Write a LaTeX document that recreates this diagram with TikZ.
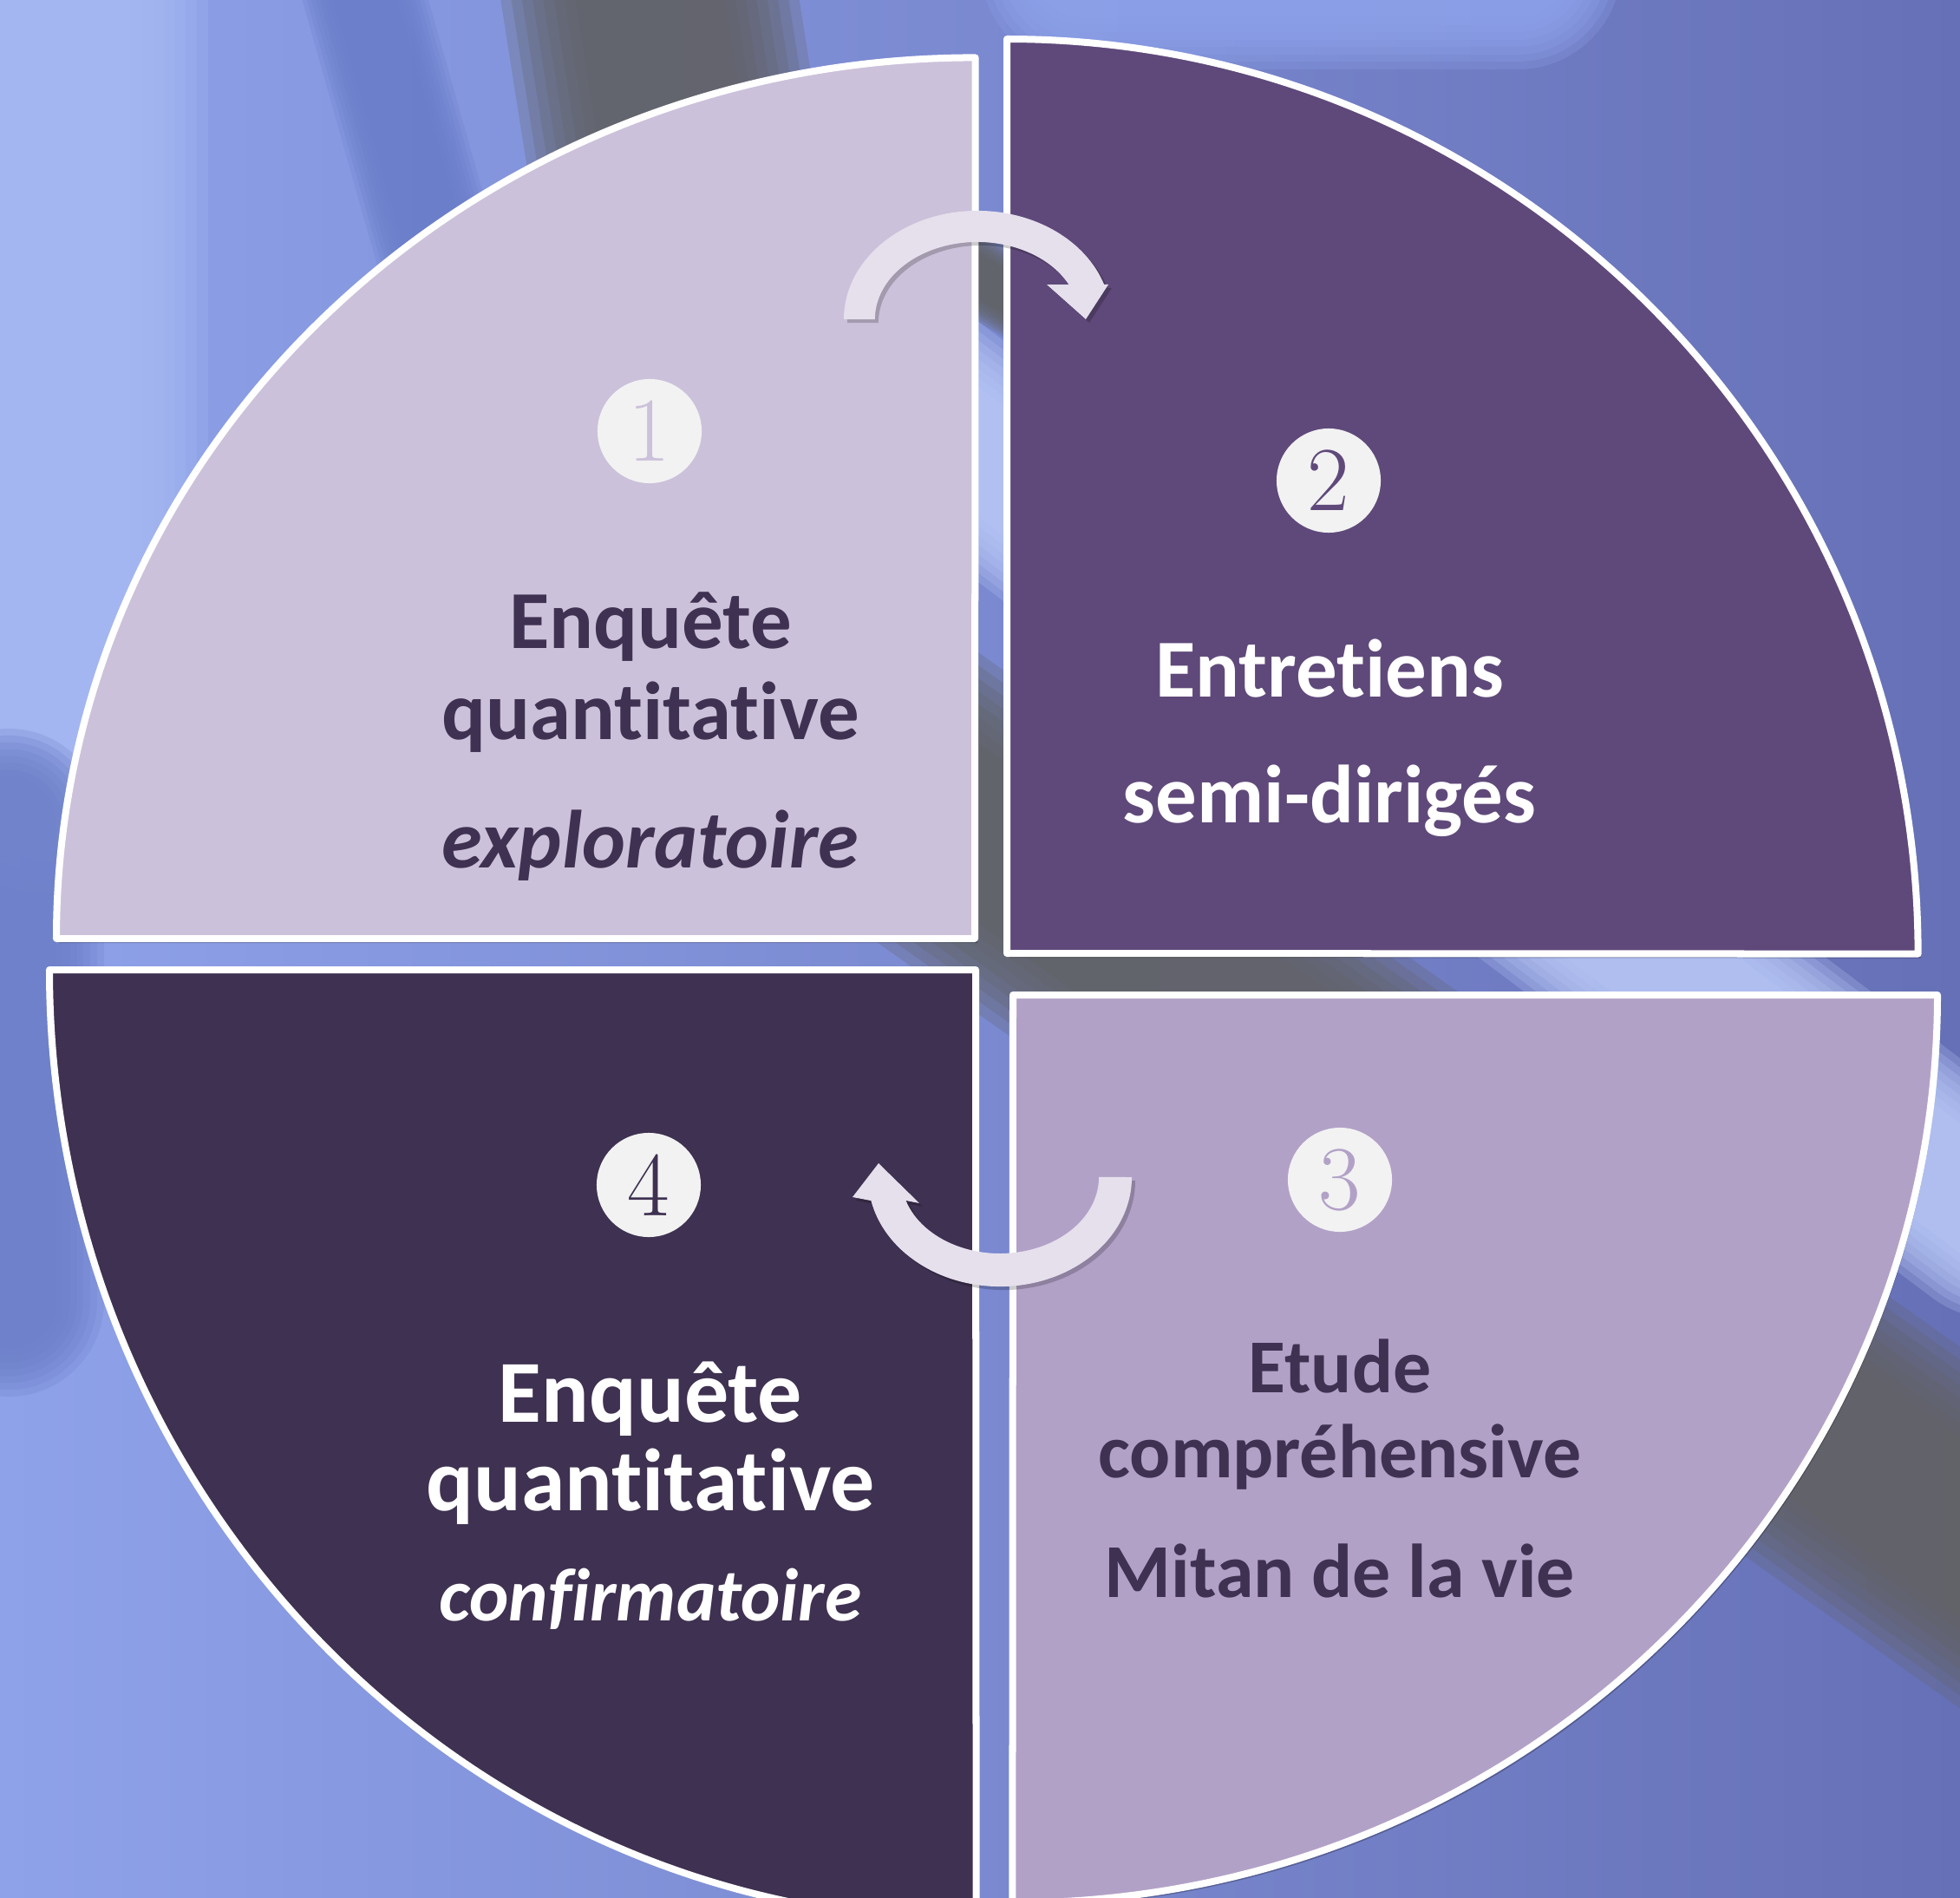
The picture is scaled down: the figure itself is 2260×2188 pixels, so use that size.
\documentclass[tikz,border=0pt]{standalone}
\usepackage{fontspec}
\newfontfamily\calibrifont[Ligatures=NoCommon]{Carlito}

\definecolor{quadA}{HTML}{CCC1DA}
\definecolor{quadB}{HTML}{5F497A}
\definecolor{quadC}{HTML}{B2A1C7}
\definecolor{quadD}{HTML}{3F3151}
\definecolor{arrowfill}{HTML}{E5E0EC}
\definecolor{numfill}{HTML}{F2F2F2}
\definecolor{darktext}{HTML}{3F3151}
\definecolor{bgleft}{HTML}{8EA2EA}
\definecolor{bgright}{HTML}{6670B6}
\definecolor{bglight}{HTML}{A8BAF4}
\definecolor{bgmid}{HTML}{6D80C9}
\definecolor{bgstripe}{HTML}{6A7ECA}
\definecolor{bgtop}{HTML}{8EA3EC}
\definecolor{bggray}{HTML}{626264}
\definecolor{bgstreak}{HTML}{B8C7F6}

\tikzset{
    quad/.style = {
        draw = white,
        line width = 0.08cm,
        line join = round,
        },
    quad shadow/.style = {
        fill = black,
        opacity = 0.25,
        },
    cycle arrow/.style = {
        fill = arrowfill,
        },
    arrow shadow/.style = {
        fill = black,
        opacity = 0.2,
        },
    num/.style = {
        circle,
        fill = numfill,
        minimum size = 1.2cm,
        inner sep = 0pt,
        font = \fontsize{30}{30}\selectfont,
        },
    phase text/.style = {
        anchor = base,
        font = \calibrifont\bfseries\fontsize{#1}{#1}\selectfont,
        },
}

% blurred band of the background photo
\newcommand\softband[4]{%
    \foreach \k in {0,...,7}
        \draw[#1, line width={#2*(1-\k/14)}, opacity=0.25, line cap=round] #3 -- #4;
}

\newcommand\quadApath{(1124,-1082) -- (65,-1082) arc[start angle=180, end angle=90, x radius=10.59cm, y radius=10.15cm] -- cycle}
\newcommand\quadBpath{(1161,-1099) -- (1161,-45) arc[start angle=90, end angle=0, x radius=10.50cm, y radius=10.54cm] -- cycle}
\newcommand\quadCpath{(1168,-1147) -- (2234,-1147) arc[start angle=0, end angle=-90, x radius=10.66cm, y radius=10.46cm] -- cycle}
\newcommand\quadDpath{(1125,-1118) -- (57,-1118) arc[start angle=180, end angle=270, x radius=10.68cm, y radius=10.96cm] -- cycle}

\newcommand\arrowTopPath{(973,-368) arc[start angle=180, end angle=18.7, x radius=1.54cm, y radius=1.25cm]
    -- (1278,-328) -- (1252,-368) -- (1207,-328) -- (1232.4,-328)
    arc[start angle=26.7, end angle=180, x radius=1.18cm, y radius=0.89cm] -- cycle}
\newcommand\arrowBotPath{(1305,-1357) arc[start angle=0, end angle=-167.6, x radius=1.52cm, y radius=1.26cm]
    -- (983,-1380) -- (1013,-1341) -- (1060,-1387) -- (1044.5,-1384)
    arc[start angle=-162.1, end angle=0, x radius=1.14cm, y radius=0.88cm] -- cycle}

\begin{document}
\begin{tikzpicture}[x=0.01cm, y=0.01cm]
    \useasboundingbox (0,0) rectangle (2260,-2188);
    \clip (0,0) rectangle (2260,-2188);

    % background
    \shade[left color=bgleft, right color=bgright] (0,0) rectangle (2260,-2188);
    \softband{bglight}{3.6cm}{(60,80)}{(60,-850)}
    \softband{bgmid}{2.2cm}{(10,-950)}{(10,-1500)}
    \softband{bgstripe}{1.4cm}{(410,40)}{(540,-420)}
    \softband{bgtop}{2.4cm}{(1250,40)}{(1750,40)}
    \softband{bggray}{3.4cm}{(740,60)}{(800,-320)}
    \softband{bggray}{0.9cm}{(1020,-250)}{(1260,-400)}
    \softband{bggray}{3.4cm}{(1000,-870)}{(2400,-1860)}
    \softband{bgstreak}{2.4cm}{(1060,-470)}{(2300,-1400)}

    % quadrants
    \fill[quad shadow, shift={(3,-5)}] \quadApath;
    \fill[quad shadow, shift={(3,-5)}] \quadBpath;
    \fill[quad shadow, shift={(3,-5)}] \quadCpath;
    \fill[quad shadow, shift={(3,-5)}] \quadDpath;
    \filldraw[quad, fill=quadA] \quadApath;
    \filldraw[quad, fill=quadB] \quadBpath;
    \filldraw[quad, fill=quadC] \quadCpath;
    \filldraw[quad, fill=quadD] \quadDpath;

    % cycle arrows
    \fill[arrow shadow, shift={(4,-4)}] \arrowTopPath;
    \fill[arrow shadow, shift={(4,-4)}] \arrowBotPath;
    \fill[cycle arrow] \arrowTopPath;
    \fill[cycle arrow] \arrowBotPath;

    % numbers
    \node[num, text=quadA] (n1) at (749,-497) {1};
    \node[num, text=quadB] (n2) at (1532,-554) {2};
    \node[num, text=quadC] (n3) at (1545,-1360) {3};
    \node[num, text=quadD] (n4) at (748,-1366) {4};

    % texts
    \node[phase text=27, text=darktext] (t1a) at (750,-747) {Enquête};
    \node[phase text=27, text=darktext] (t1b) at (750,-852) {quantitative};
    \node[phase text=27, text=darktext] (t1c) at (750,-1000) {\itshape exploratoire};

    \node[phase text=27, text=white] (t2a) at (1533,-803) {Entretiens};
    \node[phase text=27, text=white] (t2b) at (1533,-948) {semi-dirigés};

    \node[phase text=25, text=darktext] (t3a) at (1545,-1605) {Etude};
    \node[phase text=25, text=darktext] (t3b) at (1545,-1703) {compréhensive};
    \node[phase text=25, text=darktext] (t3c) at (1545,-1841) {Mitan de la vie};

    \node[phase text=29, text=white] (t4a) at (750,-1639) {Enquête};
    \node[phase text=29, text=white] (t4b) at (750,-1741) {quantitative};
    \node[phase text=24.5, text=white] (t4c) at (750,-1868) {\itshape confirmatoire};
\end{tikzpicture}
\end{document}
